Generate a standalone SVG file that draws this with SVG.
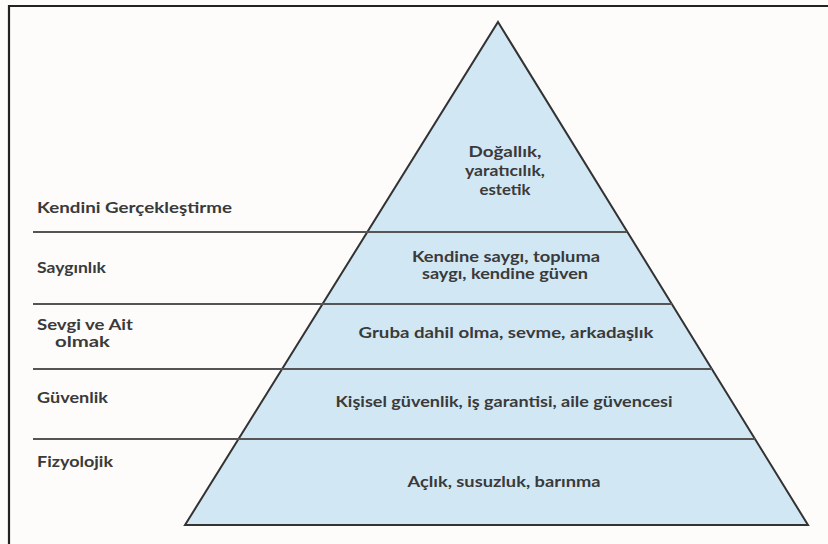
<svg xmlns="http://www.w3.org/2000/svg" width="828" height="544" viewBox="0 0 828 544">
  <style>
    .lbl { font-family: Lato, "Open Sans", "Liberation Sans", sans-serif; font-size: 15px; font-weight: bold; fill: #3a3a3a; }
    .mid { text-anchor: middle; }
    .rule { stroke: #555; stroke-width: 2; }
    .tier { fill: #d2e7f4; stroke: #333; stroke-width: 2; stroke-linejoin: miter; }
  </style>
  <rect x="0" y="0" width="828" height="544" fill="#fdfcfa"/>
  <!-- frame -->
  <path d="M9 544 V6 H828" fill="none" stroke="#222" stroke-width="2.2"/>

  <!-- pyramid body -->
  <g id="pyramid">
    <polygon class="tier" points="498,22 808,525 185,525"/>
  </g>

  <!-- tier separators, running from the left labels to the right slope -->
  <g id="separators">
    <line class="rule" x1="33" y1="232" x2="627" y2="232"/>
    <line class="rule" x1="33" y1="304" x2="672" y2="304"/>
    <line class="rule" x1="33" y1="369" x2="712" y2="369"/>
    <line class="rule" x1="33" y1="439" x2="755" y2="439"/>
  </g>

  <g id="tier-self-actualization">
    <text class="lbl" x="37" y="213" textLength="195" lengthAdjust="spacingAndGlyphs">Kendini Gerçekleştirme</text>
    <text class="lbl mid" x="505" y="157" textLength="73" lengthAdjust="spacingAndGlyphs">Doğallık,</text>
    <text class="lbl mid" x="505" y="176" textLength="80" lengthAdjust="spacingAndGlyphs">yaratıcılık,</text>
    <text class="lbl mid" x="505" y="195" textLength="51" lengthAdjust="spacingAndGlyphs">estetik</text>
  </g>

  <g id="tier-esteem">
    <text class="lbl" x="37" y="273" textLength="69" lengthAdjust="spacingAndGlyphs">Saygınlık</text>
    <text class="lbl mid" x="506" y="262" textLength="188" lengthAdjust="spacingAndGlyphs">Kendine saygı, topluma</text>
    <text class="lbl mid" x="505" y="279" textLength="166" lengthAdjust="spacingAndGlyphs">saygı, kendine güven</text>
  </g>

  <g id="tier-belonging">
    <text class="lbl" x="37" y="330" textLength="96" lengthAdjust="spacingAndGlyphs">Sevgi ve Ait</text>
    <text class="lbl" x="55" y="347" textLength="55" lengthAdjust="spacingAndGlyphs">olmak</text>
    <text class="lbl mid" x="506" y="338" textLength="295" lengthAdjust="spacingAndGlyphs">Gruba dahil olma, sevme, arkadaşlık</text>
  </g>

  <g id="tier-safety">
    <text class="lbl" x="37" y="403" textLength="71" lengthAdjust="spacingAndGlyphs">Güvenlik</text>
    <text class="lbl mid" x="504" y="407" textLength="337" lengthAdjust="spacingAndGlyphs">Kişisel güvenlik, iş garantisi, aile güvencesi</text>
  </g>

  <g id="tier-physiological">
    <text class="lbl" x="37" y="467" textLength="76" lengthAdjust="spacingAndGlyphs">Fizyolojik</text>
    <text class="lbl mid" x="504" y="487" textLength="193" lengthAdjust="spacingAndGlyphs">Açlık, susuzluk, barınma</text>
  </g>
</svg>
